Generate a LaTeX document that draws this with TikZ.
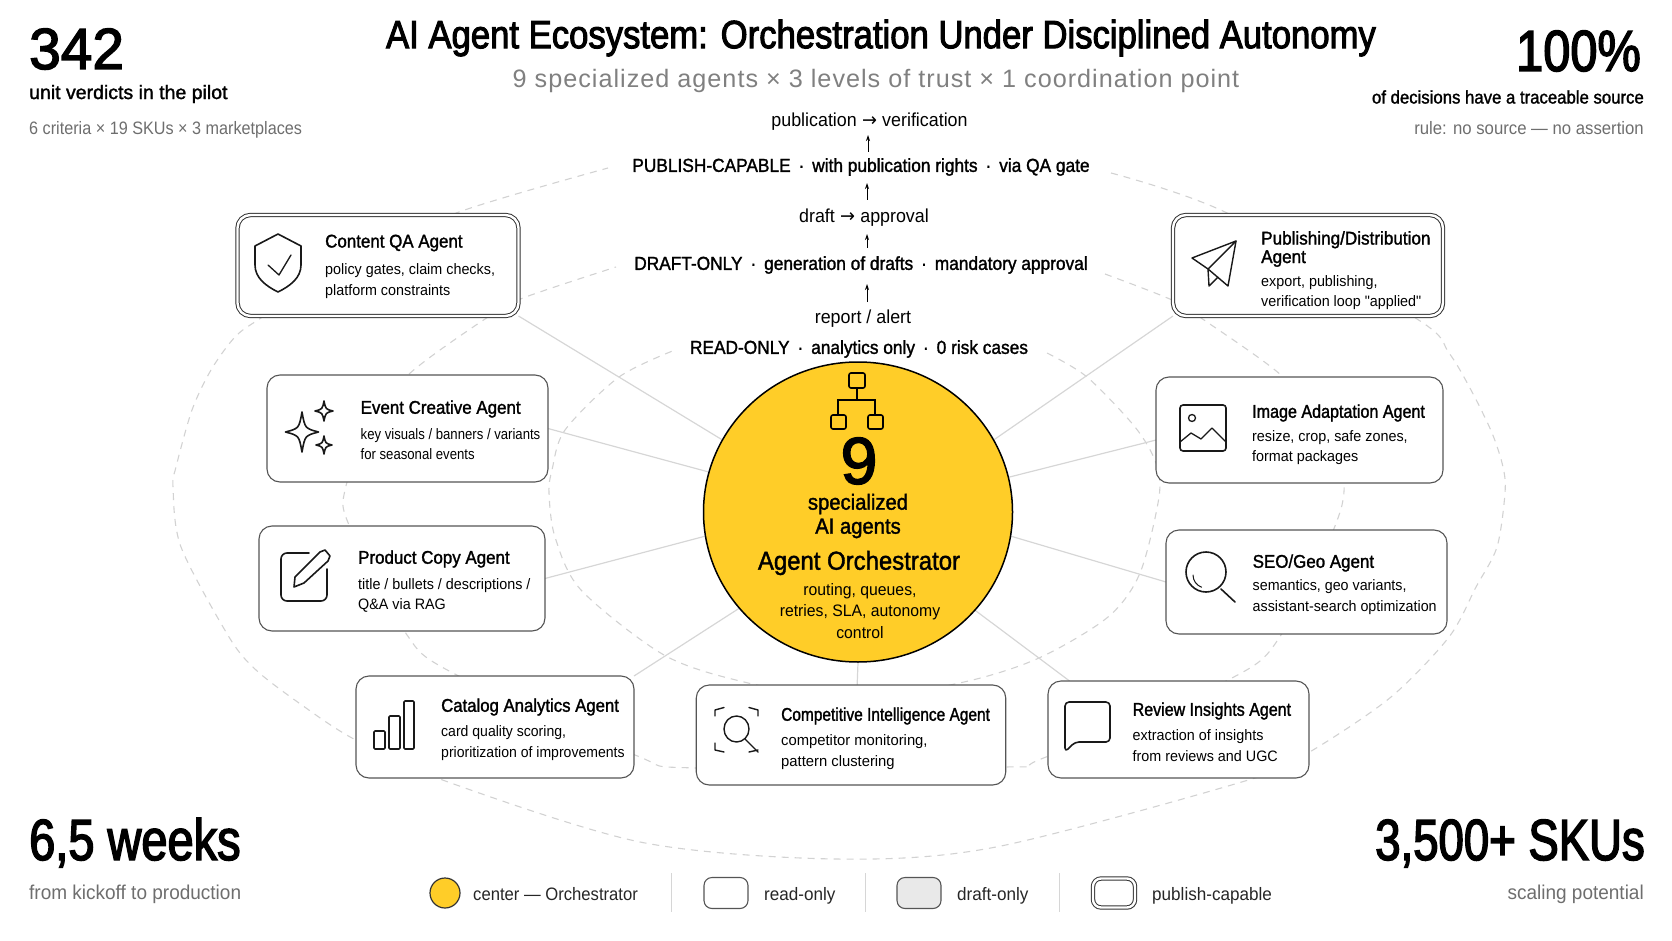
\documentclass[tikz,border=0pt]{standalone}
\usepackage{fontspec}
\setmainfont{Liberation Sans}
\newfontfamily\medfont[FakeBold=1.5,FakeStretch=0.92]{Liberation Sans}
\newfontfamily\headfont[FakeBold=2.5,FakeStretch=0.88]{Liberation Sans}
\newfontfamily\lightfont[FakeStretch=0.95]{Liberation Sans}
\newfontfamily\subfont[LetterSpace=4]{Liberation Sans}
\newfontfamily\arrowfont[FakeStretch=0.95]{DejaVu Sans}
\usetikzlibrary{arrows.meta,positioning,backgrounds,shapes.geometric}
\definecolor{hubyellow}{HTML}{FFCD28}
\definecolor{ringgray}{HTML}{D2D2D2}
\definecolor{spokegray}{HTML}{D6D6D6}
\definecolor{edgegray}{HTML}{555555}
\definecolor{notegray}{HTML}{6E6E6E}
\definecolor{subgray}{HTML}{808080}
\definecolor{draftfill}{HTML}{E9E9E9}
\newcommand{\pxsize}[2]{\fontsize{#1}{#2}\selectfont}
\newcommand{\flowto}{{\arrowfont\;→\;}}
% four pointed star of the creative agent
\newcommand{\sparkle}[4]{
  \draw[icon] (#1,#2-#4) .. controls (#1+.18*#3,#2-.18*#4) .. (#1+#3,#2)
     .. controls (#1+.18*#3,#2+.18*#4) .. (#1,#2+#4)
     .. controls (#1-.18*#3,#2+.18*#4) .. (#1-#3,#2)
     .. controls (#1-.18*#3,#2-.18*#4) .. cycle;
}
\tikzset{
       arr/.style = {-{Stealth[length=6pt,width=4pt]}, line width=.9pt},
      ring/.style = {ringgray, line width=1.1pt, dash pattern=on 7pt off 6pt},
     spoke/.style = {spokegray, line width=1.2pt},
      icon/.style = {line width=1.6pt, line join=round, line cap=round, black!90},
      base/.style = {draw=edgegray, line width=1.1pt, rounded corners=13pt, inner sep=0pt,
                     outer sep=0pt},
   readbox/.style = {base, fill=white},
publishbox/.style = {base, fill=white, draw=black!80, double=white, double distance=2.4pt,
                     line width=1pt},
   squeeze/.style = {execute at begin node={\addfontfeature{FakeStretch=#1}}},
 agenthead/.style = {anchor=west, inner sep=0pt, font=\medfont\pxsize{18.4}{18.5}, align=left},
 agentnote/.style = {anchor=west, inner sep=0pt, font=\lightfont\pxsize{15.1}{20.5}, align=left},
     trust/.style = {inner sep=0pt, font=\medfont\pxsize{18.8}{20}},
      flow/.style = {inner sep=0pt, font=\lightfont\pxsize{18.8}{20}},
    bignum/.style = {inner sep=0pt, font=\headfont\pxsize{58}{58}},
   statmid/.style = {inner sep=0pt, font=\medfont\pxsize{18.2}{22}},
  statnote/.style = {inner sep=0pt, text=notegray, font=\lightfont\pxsize{20}{22}},
 statsmall/.style = {inner sep=0pt, text=notegray, font=\lightfont\pxsize{18}{22}},
    legend/.style = {anchor=base west, inner sep=0pt, font=\lightfont\pxsize{18}{22}, text=black!85},
 legenddiv/.style = {spokegray, line width=1pt},
}
\begin{document}
\begin{tikzpicture}[x=1pt,y=-1pt,>=stealth]
  \useasboundingbox (0,0) rectangle (1672,941);

  % title
  \node[inner sep=0pt,font=\headfont\pxsize{39.4}{44}] (title) at (881,38) {AI Agent Ecosystem: Orchestration Under Disciplined Autonomy};
  \node[inner sep=0pt,text=subgray,font=\subfont\pxsize{25.2}{30}] (subtitle) at (876,81) {9 specialized agents × 3 levels of trust × 1 coordination point};

  % corner figures
  \node[bignum,anchor=base west,squeeze=.98] (pilot) at (29,69) {342};
  \node[statmid,anchor=west,font=\medfont\pxsize{19.5}{22},squeeze=1] (pilotmid) at (29,94) {unit verdicts in the pilot};
  \node[statsmall,anchor=west,squeeze=.9] (pilotnote) at (29,130) {6 criteria × 19 SKUs × 3 marketplaces};
  \node[bignum,anchor=base east,squeeze=.84] (trace) at (1641,71) {100\%};
  \node[statmid,anchor=east] (tracemid) at (1644,97) {of decisions have a traceable source};
  \node[statsmall,anchor=east,squeeze=.93] (tracenote) at (1644,128) {rule: no source — no assertion};
  \node[bignum,anchor=base west,squeeze=.81] (weeks) at (29,860) {6,5 weeks};
  \node[statnote,anchor=west] (weeksnote) at (29,894) {from kickoff to production};
  \node[bignum,anchor=base east,squeeze=.785] (skus) at (1645,860) {3,500+ SKUs};
  \node[statnote,anchor=east] (skusnote) at (1644,894) {scaling potential};

  % trust ladder
  \node[flow] (verif) at (869.5,122) {publication\flowto verification};
  \node[trust] (publish) at (861,167) {PUBLISH-CAPABLE\, ·\, with publication rights\, ·\, via QA gate};
  \node[flow] (approval) at (864,218) {draft\flowto approval};
  \node[trust] (draft) at (861,265) {DRAFT-ONLY\, ·\, generation of drafts\, ·\, mandatory approval};
  \node[flow] (report) at (863,319) {report / alert};
  \node[trust] (readonly) at (859,349) {READ-ONLY\, ·\, analytics only\, ·\, 0 risk cases};
  \draw[arr] (867,302) -- (867,284);
  \draw[arr] (867,248) -- (867,234);
  \draw[arr] (867,200) -- (867,183);
  \draw[arr] (868,152) -- (868,135);

  % hub
  \node[ellipse,draw=black,line width=1.5pt,fill=hubyellow,minimum width=309pt,minimum height=300pt,inner sep=0pt] (hub) at (858,512) {};
  \draw[line width=1.6pt,rounded corners=2pt] (849,373) rectangle (865,388);
  \draw[line width=1.6pt,rounded corners=2pt] (831,415) rectangle (846,429);
  \draw[line width=1.6pt,rounded corners=2pt] (868,415) rectangle (883,429);
  \draw[line width=1.6pt] (857,388) -- (857,400) (838,415) -- (838,400) -- (875,400) -- (875,415);
  \node[inner sep=0pt,font=\headfont\pxsize{66}{66},squeeze=1] (count) at (859,461) {9};
  \node[inner sep=0pt,font=\medfont\pxsize{22}{24},align=center] (countnote) at (858,516) {specialized\\AI agents};
  \node[inner sep=0pt,font=\medfont\pxsize{26}{28}] (hubhead) at (859,563) {Agent Orchestrator};
  \node[inner sep=0pt,font=\lightfont\pxsize{16.6}{21.5},align=center] (hubnote) at (860,611) {routing, queues,\\retries, SLA, autonomy\\control};

  % agents, publish-capable first
  \node[publishbox,minimum width=281,minimum height=101] (qa) at (378,265.5) {};
  \node[agenthead] (qahead) at (325,243) {Content QA Agent};
  \node[agentnote] (qanote) at (325,281) {policy gates, claim checks,\\platform constraints};
  \draw[icon] (278,234) -- (301,246) -- (301,265) .. controls (301,278) and (290,286) .. (278,292)
     .. controls (266,286) and (255,278) .. (255,265) -- (255,246) -- cycle;
  \draw[icon,line width=1.3pt] (268,265) -- (279,275) -- (291,255);

  \node[publishbox,minimum width=270,minimum height=101] (pub) at (1308,265.5) {};
  \node[agenthead,anchor=north west,squeeze=.93] (pubhead) at (1261,231) {Publishing/Distribution\\Agent};
  \node[agentnote] (pubnote) at (1261,292.5) {export, publishing,\\verification loop "applied"};
  \draw[icon,line width=1.4pt] (1236,241) -- (1192,258) -- (1208,269) -- cycle;
  \draw[icon,line width=1.4pt] (1236,241) -- (1228,286) -- (1208,269) -- (1209,286) -- (1218,277);

  \node[readbox,minimum width=281,minimum height=107] (event) at (407.5,428.5) {};
  \node[agenthead] (eventhead) at (360.5,409) {Event Creative Agent};
  \node[agentnote,squeeze=.87] (eventnote) at (360.5,444) {key visuals / banners / variants\\for seasonal events};
  \sparkle{302}{432}{16.5}{20}
  \sparkle{324}{411}{9}{10}
  \sparkle{324}{445}{8}{9}

  \node[readbox,minimum width=286,minimum height=105] (copy) at (402,578.5) {};
  \node[agenthead] (copyhead) at (358,559) {Product Copy Agent};
  \node[agentnote] (copynote) at (358,595.5) {title / bullets / descriptions /\\Q\&A via RAG};
  \draw[icon] (309,553) -- (287,553) arc[start angle=-90,end angle=-180,radius=6] -- (281,595)
     arc[start angle=180,end angle=90,radius=6] -- (321,601) arc[start angle=90,end angle=0,radius=6] -- (327,569);
  \draw[icon] (294,587) -- (295,577) -- (320,552) -- (325,550) -- (330,556) -- (328,561) -- (304,583) -- cycle;

  \node[readbox,minimum width=278,minimum height=102] (catalog) at (495,727) {};
  \node[agenthead,squeeze=.91] (cataloghead) at (441,707) {Catalog Analytics Agent};
  \node[agentnote,squeeze=.93] (catalognote) at (441,743) {card quality scoring,\\prioritization of improvements};
  \draw[icon,rounded corners=1pt] (374,731) rectangle (385,749);
  \draw[icon,rounded corners=1pt] (389,716) rectangle (400,749);
  \draw[icon,rounded corners=1pt] (404,701) rectangle (414,749);

  \node[readbox,minimum width=309.5,minimum height=100] (comp) at (851,735) {};
  \node[agenthead,squeeze=.84] (comphead) at (781,716) {Competitive Intelligence Agent};
  \node[agentnote,squeeze=.98] (compnote) at (781,752) {competitor monitoring,\\pattern clustering};
  \draw[icon,line width=1.4pt] (715,716) -- (715,710) -- (724,707.5) (749,707.5) -- (758,710) -- (758,716)
     (715,743) -- (715,750) -- (724,752) (749,752) -- (758,750);
  \draw[icon,line width=1.4pt] (736.5,729) ellipse[x radius=12.5,y radius=13];
  \draw[icon,line width=1.4pt] (745,739) -- (758,752);

  \node[readbox,minimum width=261,minimum height=97] (review) at (1178.5,729.5) {};
  \node[agenthead,squeeze=.87] (reviewhead) at (1132.5,711) {Review Insights Agent};
  \node[agentnote] (reviewnote) at (1132.5,745.5) {extraction of insights\\from reviews and UGC};
  \draw[icon,rounded corners=4pt] (1065,752) -- (1065,702) -- (1110,702) -- (1110,742) -- (1075,742) -- cycle;

  \node[readbox,minimum width=281,minimum height=104] (seo) at (1306.5,582) {};
  \node[agenthead] (seohead) at (1252.5,563) {SEO/Geo Agent};
  \node[agentnote,squeeze=.945] (seonote) at (1252.5,597) {semantics, geo variants,\\assistant-search optimization};
  \draw[icon] (1206,572) circle[radius=20];
  \draw[icon] (1221,589) -- (1235,602);
  \draw[icon,line width=1pt] (1193,575) arc[start angle=180,end angle=110,radius=13];

  \node[readbox,minimum width=287,minimum height=106] (image) at (1299.5,430) {};
  \node[agenthead,squeeze=.875] (imagehead) at (1252,413) {Image Adaptation Agent};
  \node[agentnote] (imagenote) at (1252,447.5) {resize, crop, safe zones,\\format packages};
  \draw[icon,rounded corners=3pt] (1180,405) rectangle (1226,451);
  \draw[icon,line width=1.3pt] (1192,418) circle[radius=3.5];
  \draw[icon,line width=1.3pt] (1180,442) -- (1191,433) -- (1201,439) -- (1212,428) -- (1226,442);

  % legend
  \node[circle,draw=black!80,line width=1.2pt,fill=hubyellow,minimum size=30pt,inner sep=0pt] (keyhub) at (445,893) {};
  \node[legend,squeeze=.925] (keyhubtext) at (473,900) {center — Orchestrator};
  \node[base,fill=white,rounded corners=8pt,minimum width=44,minimum height=31] (keyread) at (726,893) {};
  \node[legend] (keyreadtext) at (764,900) {read-only};
  \node[base,fill=draftfill,rounded corners=8pt,minimum width=44,minimum height=31] (keydraft) at (919,893) {};
  \node[legend] (keydrafttext) at (957,900) {draft-only};
  \node[publishbox,rounded corners=8pt,minimum width=42,minimum height=29] (keypub) at (1114,893) {};
  \node[legend] (keypubtext) at (1152,900) {publish-capable};
  \draw[legenddiv] (671,873) -- (671,912);
  \draw[legenddiv] (865,873) -- (865,912);
  \draw[legenddiv] (1059,873) -- (1059,912);

  \begin{scope}[on background layer]
    % trust rings, they break at the ladder labels
    \draw[ring] plot[smooth] coordinates {(1111,173) (1225,212) (1417,319) (1449,353) (1471,390) (1492,433) (1503,467)
       (1505,493) (1497,547) (1476,587) (1449,637) (1391,697) (1313,750) (1255,778) (996,847) (836,859) (640,842) (437,778)
       (352,738) (299,703) (256,670) (229,637) (181,547) (173,487) (176,467) (192,410) (211,370) (235,337) (261,318)
       (350,262) (459,212) (608,168)};
    \draw[ring] plot[smooth] coordinates {(1105,274) (1172,300) (1204,320) (1281,375) (1330,430) (1342,505)
       (1281,635) (1228,680) (1041,759) (1006,767) (696,768) (635,755) (451,672) (405,632) (349,525) (345,490)
       (368,430) (408,375) (488,317) (523,298) (616,267)};
    \draw[ring] plot[smooth] coordinates {(1047,353) (1087,377) (1135,427) (1156,463) (1159,497) (1140,573)
       (1108,617) (1039,658) (964,682) (850,700) (744,682) (664,655) (581,590) (555,537) (549,493) (552,470) (565,430)
       (619,377) (675,350)};
    % spokes
    \draw[spoke] (qa.south east) -- (hub.152);
    \draw[spoke] (event.east) -- (hub.165);
    \draw[spoke] (copy.east) -- (hub.189);
    \draw[spoke] (catalog.north east) -- (hub.219);
    \draw[spoke] (comp.83) -- (hub.south);
    \draw[spoke] (review.156) -- (hub.-40);
    \draw[spoke] (seo.west) -- (hub.-9);
    \draw[spoke] (image.184) -- (hub.13);
    \draw[spoke] (pub.south west) -- (hub.28);
  \end{scope}
\end{tikzpicture}
\end{document}
